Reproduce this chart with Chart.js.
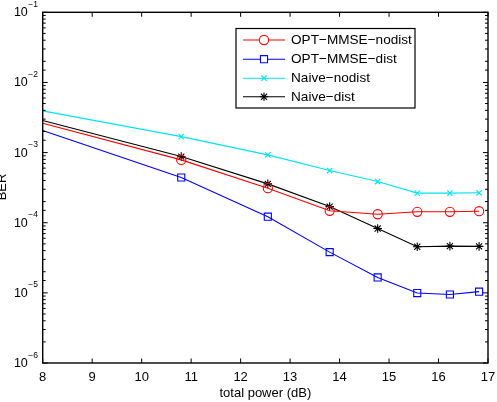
<!DOCTYPE html>
<html>
<head>
<meta charset="utf-8">
<script src="https://cdn.jsdelivr.net/npm/chart.js@4/dist/chart.umd.min.js"></script>
<style>
  html, body { margin: 0; padding: 0; background: #fff; }
  #wrap { width: 497px; height: 402px; position: relative; }
</style>
</head>
<body>
<div id="wrap"><canvas id="c" width="497" height="402"></canvas></div>
<script>
// ---- data ----
const powerDb = [8, 10.8, 12.55, 13.8, 14.77, 15.57, 16.23, 16.82];
const optMmseNodist = [2.62e-3, 7.87e-4, 3.11e-4, 1.48e-4, 1.32e-4, 1.43e-4, 1.43e-4, 1.46e-4];
const optMmseDist   = [2.06e-3, 4.41e-4, 1.22e-4, 3.81e-5, 1.66e-5, 9.93e-6, 9.48e-6, 1.04e-5];
const naiveNodist   = [3.93e-3, 1.69e-3, 9.27e-4, 5.54e-4, 3.86e-4, 2.64e-4, 2.64e-4, 2.67e-4];
const naiveDist     = [2.86e-3, 8.77e-4, 3.58e-4, 1.70e-4, 8.26e-5, 4.54e-5, 4.64e-5, 4.60e-5];
const seriesNames = ['OPT\u2212MMSE\u2212nodist', 'OPT\u2212MMSE\u2212dist', 'Naive\u2212nodist', 'Naive\u2212dist'];
const xTitle = 'total power (dB)';
const yTitle = 'BER';

const FONT = '"Liberation Sans", Arial, Helvetica, sans-serif';

function pts(ys) { return powerDb.map((x, i) => ({ x: x, y: ys[i] })); }
function radius(r) { return ctx => ctx.dataIndex === 0 ? 0 : r; }

const styles = [
  { color: '#ff0000', pointStyle: 'circle', r: 4.6 },
  { color: '#0000ff', pointStyle: 'rect', r: 5.0 },
  { color: '#00e5ee', pointStyle: 'crossRot', r: 3.8 },
  { color: '#000000', pointStyle: 'star', r: 4.3 }
];
const allSeries = [optMmseNodist, optMmseDist, naiveNodist, naiveDist];

const datasets = allSeries.map((s, i) => ({
  label: seriesNames[i],
  data: pts(s),
  borderColor: styles[i].color,
  backgroundColor: 'rgba(0,0,0,0)',
  pointBorderColor: styles[i].color,
  pointBackgroundColor: 'rgba(0,0,0,0)',
  pointStyle: styles[i].pointStyle,
  pointRadius: radius(styles[i].r),
  pointHoverRadius: radius(styles[i].r),
  pointBorderWidth: 1.1,
  borderWidth: 1.1,
  tension: 0,
  fill: false
}));

const framePlugin = {
  id: 'matlabFrame',
  afterDatasetsDraw(chart) {
    const { ctx, chartArea: a, scales } = chart;
    const xs = scales.x, ys = scales.y;
    ctx.save();
    ctx.strokeStyle = '#000';
    ctx.lineWidth = 1.4;
    ctx.strokeRect(a.left, a.top, a.right - a.left, a.bottom - a.top);
    ctx.lineWidth = 1;
    // x ticks (inside, top and bottom) + labels
    ctx.fillStyle = '#000';
    ctx.font = '13px ' + FONT;
    ctx.textAlign = 'center';
    ctx.textBaseline = 'alphabetic';
    xs.ticks.forEach(t => {
      const px = xs.getPixelForValue(t.value);
      ctx.beginPath();
      ctx.moveTo(px, a.bottom); ctx.lineTo(px, a.bottom - 4.5);
      ctx.moveTo(px, a.top); ctx.lineTo(px, a.top + 4.5);
      ctx.stroke();
      ctx.fillText(String(t.value), px, a.bottom + 18.3);
    });
    // y ticks (log): majors at powers of ten, minors elsewhere
    ys.ticks.forEach(t => {
      const v = t.value;
      const lg = Math.log10(v);
      const major = Math.abs(lg - Math.round(lg)) < 1e-9;
      const py = ys.getPixelForValue(v);
      const len = major ? 5 : 3;
      ctx.beginPath();
      ctx.moveTo(a.left, py); ctx.lineTo(a.left + len, py);
      ctx.moveTo(a.right, py); ctx.lineTo(a.right - len, py);
      ctx.stroke();
      if (major) {
        ctx.font = '12.5px ' + FONT;
        ctx.textAlign = 'right';
        ctx.fillText('10', 27.8, py + 4);
        ctx.font = '8.5px ' + FONT;
        ctx.textAlign = 'left';
        ctx.fillText('\u2212' + Math.abs(Math.round(lg)), 28.2, py - 5.5);
      }
    });
    // axis titles
    ctx.font = '13px ' + FONT;
    ctx.textAlign = 'center';
    ctx.fillText(xTitle, (a.left + a.right) / 2, 396.5);
    ctx.save();
    ctx.translate(5.5, 187);
    ctx.rotate(-Math.PI / 2);
    ctx.fillText(yTitle, 0, 0);
    ctx.restore();
    ctx.restore();
  },
  afterDraw(chart) {
    const { ctx } = chart;
    const box = { left: 236, top: 28.5, right: 415, bottom: 108 };
    ctx.save();
    ctx.fillStyle = '#fff';
    ctx.fillRect(box.left, box.top, box.right - box.left, box.bottom - box.top);
    ctx.strokeStyle = '#000';
    ctx.lineWidth = 1.2;
    ctx.strokeRect(box.left, box.top, box.right - box.left, box.bottom - box.top);
    const rowY = [40, 59.2, 78.2, 96.8];
    chart.data.datasets.forEach((ds, i) => {
      const y = rowY[i];
      ctx.strokeStyle = ds.borderColor;
      ctx.lineWidth = 1.1;
      ctx.beginPath();
      ctx.moveTo(243, y); ctx.lineTo(285, y);
      ctx.stroke();
      ctx.fillStyle = '#ffffff';
      ctx.strokeStyle = ds.borderColor;
      Chart.helpers.drawPoint(ctx, {
        pointStyle: ds.pointStyle, radius: styles[i].r, rotation: 0, borderWidth: 1.1
      }, 264, y);
      ctx.fillStyle = '#000';
      ctx.font = '13.6px ' + FONT;
      ctx.textAlign = 'left';
      ctx.textBaseline = 'middle';
      ctx.fillText(ds.label, 291, y + 0.5);
    });
    ctx.restore();
  }
};

new Chart(document.getElementById('c'), {
  type: 'line',
  data: { datasets: datasets },
  options: {
    responsive: false,
    animation: false,
    events: [],
    layout: { padding: { left: 0, right: 9, top: 12.3, bottom: 0 } },
    plugins: { legend: { display: false }, tooltip: { enabled: false } },
    scales: {
      x: {
        type: 'linear', min: 8, max: 17,
        ticks: { display: false, stepSize: 1 },
        grid: { display: false },
        border: { display: false },
        afterFit(s) { s.height = 39; }
      },
      y: {
        type: 'logarithmic', min: 1e-6, max: 1e-1,
        ticks: { display: false },
        grid: { display: false },
        border: { display: false },
        afterFit(s) { s.width = 42.7; }
      }
    }
  },
  plugins: [framePlugin]
});
</script>
</body>
</html>
